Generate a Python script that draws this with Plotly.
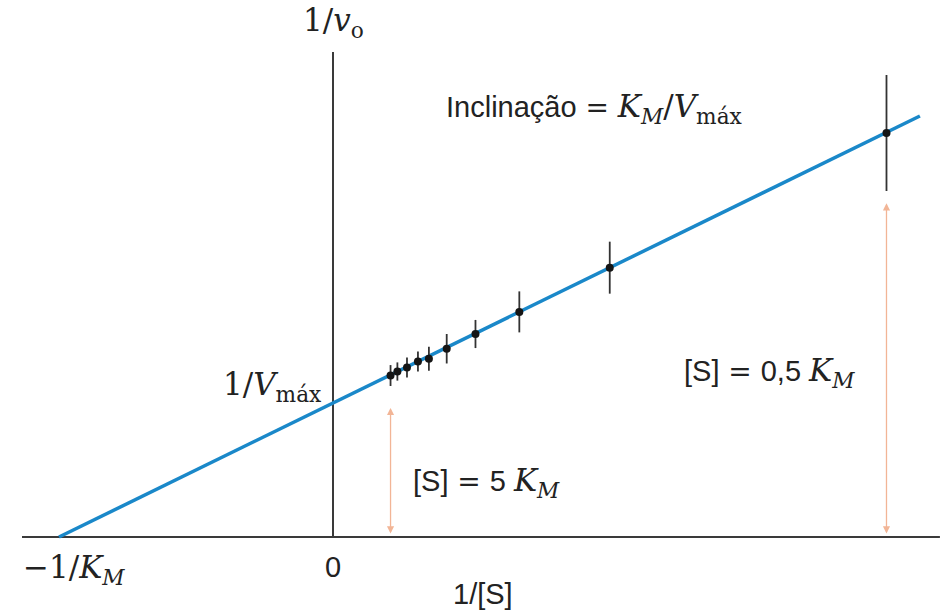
import plotly.graph_objects as go

# Lineweaver–Burk (double-reciprocal) plot, expressed in units of K_M = V_max = 1
km = 1.0
vmax = 1.0
slope = km / vmax

# measured points: 1/[S], 1/v0 and their error bars
inv_s = [0.21, 0.235, 0.27, 0.31, 0.35, 0.415, 0.52, 0.68, 1.01, 2.02]
inv_v = [1.205, 1.235, 1.265, 1.31, 1.33, 1.405, 1.515, 1.68, 2.01, 3.015]
inv_v_err = [0.078, 0.068, 0.075, 0.075, 0.09, 0.11, 0.105, 0.153, 0.194, 0.433]

# fitted straight line 1/v0 = (K_M/V_max)(1/[S]) + 1/V_max
line_x = [-1 / km, 2.142]
line_y = [1 / vmax + slope * x for x in line_x]

# concentration markers: [S] = 5 K_M and [S] = 0.5 K_M
marker_x = [0.21, 2.02]
marker_top = [0.963, 2.49]

SANS = "Liberation Sans, Arial, sans-serif"
SERIF = "DejaVu Serif, serif"
INK = "#222222"


def serif(s, size=31):
    return f'<span style="font-family:{SERIF};font-size:{size}px">{s}</span>'


KM = serif("<i>K</i><sub><i>M</i></sub>")
VMAX = serif("<i>V</i><sub>máx</sub>")
EQ = serif("&nbsp;=&nbsp;", 28)

fig = go.Figure()

fig.add_trace(go.Scatter(
    x=line_x, y=line_y, mode="lines",
    line=dict(color="#1a88c9", width=3.5),
    hoverinfo="skip", showlegend=False,
))

fig.add_trace(go.Scatter(
    x=inv_s, y=inv_v, mode="markers",
    marker=dict(color="#151515", size=8),
    error_y=dict(type="data", array=inv_v_err, visible=True,
                 color="#333333", thickness=1.8, width=0),
    showlegend=False,
))

# axes drawn as plain lines through the origin
fig.add_shape(type="line", x0=-1.135, x1=2.215, y0=0, y1=0,
              line=dict(color="#3a3a3a", width=2), layer="below")
fig.add_shape(type="line", x0=0, x1=0, y0=0, y1=3.62,
              line=dict(color="#3a3a3a", width=2), layer="below")

for xm, yt in zip(marker_x, marker_top):
    fig.add_annotation(
        x=xm, y=yt, ax=xm, ay=0.015, xref="x", yref="y", axref="x", ayref="y",
        text="", showarrow=True, arrowhead=2, arrowside="end+start",
        arrowsize=1.1, arrowwidth=1.3, arrowcolor="#f2b596",
    )

labels = [
    # text, x, y, xanchor, size
    (serif("1/<i>v</i><sub>o</sub>"), 0.0, 3.84, "center", 29),
    (serif("1/") + VMAX, -0.04, 1.12, "right", 29),
    ("Inclinação" + EQ + KM + serif("/") + VMAX, 0.409, 3.2, "left", 29),
    ("[S]" + EQ + "5 " + KM, 0.288, 0.41, "left", 29),
    ("[S]" + EQ + "0,5 " + KM, 1.277, 1.224, "left", 29),
    (serif("−1/<i>K</i><sub><i>M</i></sub>"), -1.135, -0.246, "left", 29),
    ("0", 0.0, -0.224, "center", 29),
    ("1/[S]", 0.547, -0.425, "center", 29),
]
for text, x, y, xa, size in labels:
    fig.add_annotation(
        x=x, y=y, xref="x", yref="y", text=text, showarrow=False,
        xanchor=xa, yanchor="middle", borderpad=0,
        font=dict(family=SANS, size=size, color=INK),
    )

fig.update_layout(
    width=948, height=611, autosize=False,
    margin=dict(l=0, r=0, t=0, b=0),
    paper_bgcolor="white", plot_bgcolor="white",
    xaxis=dict(range=[-1.2153, 2.2445], visible=False, fixedrange=True),
    yaxis=dict(range=[-0.5522, 4.0075], visible=False, fixedrange=True),
    showlegend=False,
)

fig.write_html("out.html")
